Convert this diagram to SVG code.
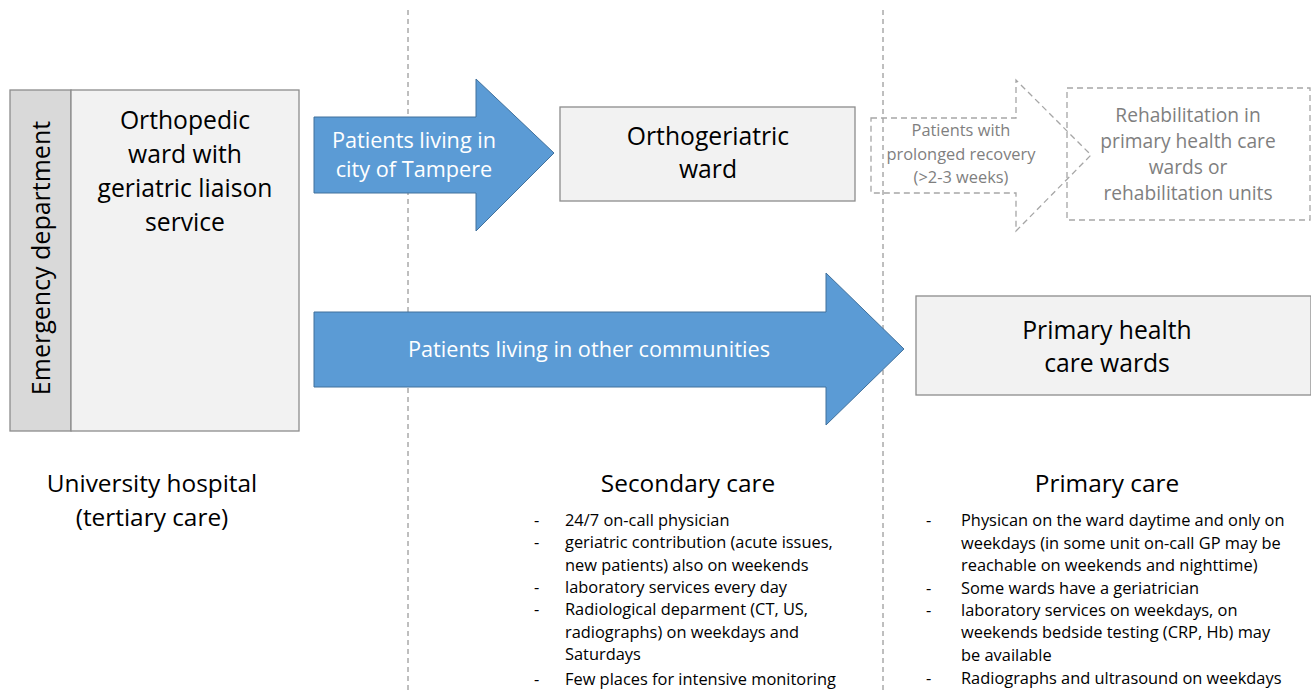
<svg xmlns="http://www.w3.org/2000/svg" width="1311" height="693" viewBox="0 0 1311 693">
<style>
text{font-family:"Open Sans","Liberation Sans",sans-serif}
.box{fill:#f2f2f2;stroke:#8c8c8c;stroke-width:1.3}
.big{font-size:24.7px;fill:#000;text-anchor:middle}
.lbl{font-size:24.4px;fill:#000;text-anchor:middle}
.list{font-size:16.4px;fill:#000}
.sep{stroke:#7f7f7f;stroke-width:1;stroke-dasharray:5,4;fill:none}
.dash{fill:none;stroke:#a6a6a6;stroke-width:1.3;stroke-dasharray:6,4}
.grey{fill:#7f7f7f;text-anchor:middle}
.blue{fill:#5b9bd5;stroke:#41719c;stroke-width:1}
.white{fill:#fff;text-anchor:middle;font-size:21.7px}
</style>
<g id="separators">
<line class="sep" x1="408" y1="10" x2="408" y2="693"/>
<line class="sep" x1="883" y1="10" x2="883" y2="693"/>
</g>
<g id="university">
<rect x="10" y="90" width="61" height="341" fill="#d9d9d9" stroke="#8c8c8c" stroke-width="1.3"/>
<text transform="translate(50,258) rotate(-90)" font-size="25" text-anchor="middle">Emergency department</text>
<rect class="box" x="71" y="90" width="228" height="341"/>
<text class="big"><tspan x="185" y="129">Orthopedic</tspan><tspan x="185" y="163">ward with</tspan><tspan x="185" y="197">geriatric liaison</tspan><tspan x="185" y="231">service</tspan></text>
</g>
<g id="connectors">
<g id="arrow-tampere">
<polygon class="blue" points="314,117 476,117 476,79 554,153 476,231 476,193 314,193"/>
<text class="white"><tspan x="414" y="148">Patients living in</tspan><tspan x="414" y="177">city of Tampere</tspan></text>
</g>
<g id="arrow-other">
<polygon class="blue" points="314,312 826,312 826,273 904,349 826,425 826,387 314,387"/>
<text class="white" x="589" y="357">Patients living in other communities</text>
</g>
<g id="arrow-prolonged">
<polygon class="dash" points="871,118 1016,118 1016,80 1091,155 1016,231 1016,193 871,193"/>
<text class="grey" font-size="16.4"><tspan x="961" y="136">Patients with</tspan><tspan x="961" y="160">prolonged recovery</tspan><tspan x="961" y="183">(&gt;2-3 weeks)</tspan></text>
</g>
</g>
<g id="orthogeriatric">
<rect class="box" x="560" y="107" width="295" height="94"/>
<text class="big"><tspan x="708" y="145">Orthogeriatric</tspan><tspan x="708" y="178">ward</tspan></text>
</g>
<g id="rehab">
<rect class="dash" x="1067" y="88" width="243" height="132"/>
<text class="grey" font-size="19.2"><tspan x="1188" y="122">Rehabilitation in</tspan><tspan x="1188" y="148">primary health care</tspan><tspan x="1188" y="174">wards or</tspan><tspan x="1188" y="200">rehabilitation units</tspan></text>
</g>
<g id="primary-wards">
<rect class="box" x="916" y="296" width="395" height="99"/>
<text class="big"><tspan x="1107" y="339">Primary health</tspan><tspan x="1107" y="372">care wards</tspan></text>
</g>
<g id="labels">
<text class="lbl"><tspan x="152" y="492">University hospital</tspan><tspan x="152" y="526">(tertiary care)</tspan></text>
<text class="lbl" x="688" y="492">Secondary care</text>
<text class="lbl" x="1107" y="492">Primary care</text>
</g>
<g id="secondary-list" class="list">
<text x="534" y="526">-</text><text x="565" y="526">24/7 on-call physician</text>
<text x="534" y="548">-</text><text x="565" y="548">geriatric contribution (acute issues,</text>
<text x="565" y="571">new patients) also on weekends</text>
<text x="534" y="593">-</text><text x="565" y="593">laboratory services every day</text>
<text x="534" y="615">-</text><text x="565" y="615">Radiological deparment (CT, US,</text>
<text x="565" y="638">radiographs) on weekdays and</text>
<text x="565" y="660">Saturdays</text>
<text x="534" y="685">-</text><text x="565" y="685">Few places for intensive monitoring</text>
</g>
<g id="primary-list" class="list">
<text x="926" y="526">-</text><text x="961" y="526">Physican on the ward daytime and only on</text>
<text x="961" y="549">weekdays (in some unit on-call GP may be</text>
<text x="961" y="571">reachable on weekends and nighttime)</text>
<text x="926" y="594">-</text><text x="961" y="594">Some wards have a geriatrician</text>
<text x="926" y="616">-</text><text x="961" y="616">laboratory services on weekdays, on</text>
<text x="961" y="638">weekends bedside testing (CRP, Hb) may</text>
<text x="961" y="661">be available</text>
<text x="926" y="684">-</text><text x="961" y="684">Radiographs and ultrasound on weekdays</text>
</g>
</svg>
